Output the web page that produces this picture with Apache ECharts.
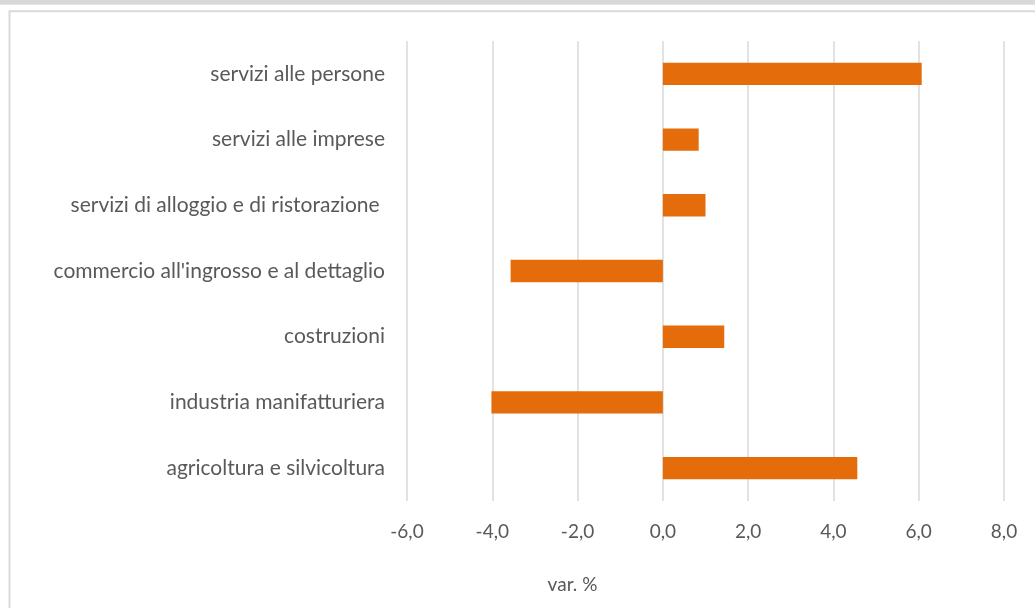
<!DOCTYPE html>
<html>
<head>
<meta charset="utf-8">
<script src="https://cdn.jsdelivr.net/npm/echarts@6/dist/echarts.min.js"></script>
<style>
  html, body { margin: 0; padding: 0; background: #fff; }
  #chart { width: 1035px; height: 608px; }
</style>
</head>
<body>
<div id="chart"></div>
<script>
// categories from bottom to top (as in the chart)
const categories = [
  'agricoltura e silvicoltura',
  'industria manifatturiera',
  'costruzioni',
  "commercio all'ingrosso e al dettaglio",
  'servizi di alloggio e di ristorazione ',
  'servizi alle imprese',
  'servizi alle persone'
]
const variazioni = [4.56, -4.02, 1.44, -3.57, 1.0, 0.84, 6.07]
const axisMin = -6
const axisMax = 8
const axisStep = 2
const axisTitle = 'var. %'

const fontFamily = 'Lato, sans-serif'
const textColor = '#595959'

const chart = echarts.init(document.getElementById('chart'))

chart.setOption({
  animation: false,
  grid: { left: 407, right: 31, top: 41, bottom: 107 },
  xAxis: {
    type: 'value',
    min: axisMin,
    max: axisMax,
    interval: axisStep,
    name: axisTitle,
    nameLocation: 'middle',
    nameGap: 74,
    nameTextStyle: {
      color: textColor,
      fontFamily,
      fontSize: 19,
      padding: [0, 266, 0, 0]
    },
    axisLine: { show: false },
    axisTick: { show: false },
    axisLabel: {
      color: textColor,
      fontFamily,
      fontSize: 19,
      margin: 21,
      formatter: (v) => v.toFixed(1).replace('.', ',')
    },
    splitLine: { lineStyle: { color: '#d9d9d9', width: 1.5 } }
  },
  yAxis: {
    type: 'category',
    data: categories,
    axisLine: { show: false },
    axisTick: { show: false },
    axisLabel: {
      color: textColor,
      fontFamily,
      fontSize: 21,
      margin: 22
    },
    splitLine: { show: false }
  },
  series: [
    {
      type: 'bar',
      data: variazioni,
      barWidth: '34%',
      itemStyle: { color: '#E46C0A' }
    }
  ],
  graphic: [
    {
      type: 'rect',
      shape: { x: 0, y: 0, width: 1035, height: 4.7 },
      style: { fill: '#d9d9d9' },
      silent: true
    },
    {
      type: 'rect',
      shape: { x: 9.5, y: 11.3, width: 1200, height: 800 },
      style: { fill: 'none', stroke: '#d9d9d9', lineWidth: 2 },
      silent: true
    }
  ]
})
</script>
</body>
</html>
